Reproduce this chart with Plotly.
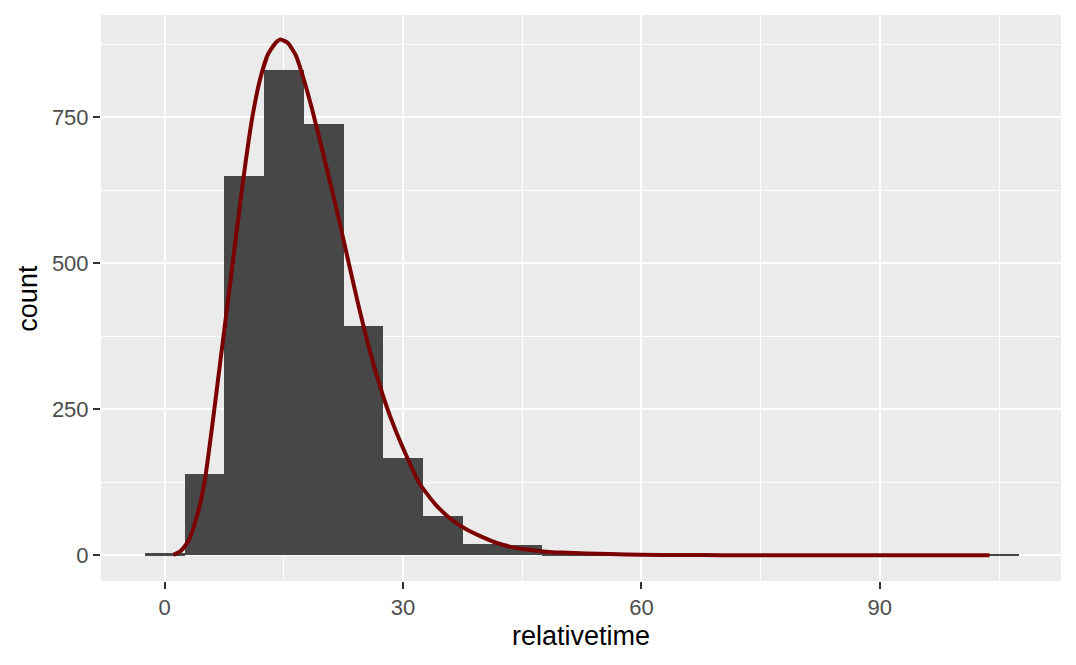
import plotly.graph_objects as go

# Histogram bins (width 5, centred on multiples of 5)
bin_centers = [0, 5, 10, 15, 20, 25, 30, 35, 40, 45, 50, 55, 60, 65, 70, 75, 80, 85, 90, 95, 100, 105]
bin_counts = [3, 139, 650, 831, 738, 393, 167, 67, 20, 17, 3, 2, 1, 1, 1, 0, 1, 0, 0, 0, 1, 1]
bin_width = 5

# Fitted density curve (scaled to counts)
curve_x = [1.1, 2.0, 3.0, 4.0, 5.0, 6.0, 7.0, 8.0, 9.0, 10.0, 11.0, 12.0, 13.0, 14.0, 14.6,
           15.5, 16.5, 17.5, 18.5, 19.5, 20.5, 21.5, 22.5, 23.5, 24.5, 25.5, 26.5, 27.5, 28.5,
           30, 32, 34, 36, 38, 40, 42, 44, 46, 48, 50, 53, 56, 60, 65, 70, 80, 90, 103.8]
curve_y = [0.5, 7, 25, 64, 124, 224, 332, 440, 549, 655, 748, 815, 858, 878, 883,
           877, 856, 815, 766, 712, 656, 600, 540, 480, 421, 366, 316, 272, 233,
           183, 124, 88, 62, 44, 31, 20, 13, 9, 6, 4.5, 3, 2, 0.8, 0.3, 0.1, 0, 0, 0]

x_ticks = [0, 30, 60, 90]
y_ticks = [0, 250, 500, 750]

font_family = "Liberation Sans, Arial, Helvetica, sans-serif"

fig = go.Figure()
fig.add_trace(go.Bar(
    x=bin_centers, y=bin_counts, width=bin_width,
    marker=dict(color="#474747", line=dict(width=0)),
    hoverinfo="x+y", showlegend=False,
))
fig.add_trace(go.Scatter(
    x=curve_x, y=curve_y, mode="lines",
    line=dict(color="#7B0000", width=4, shape="spline", smoothing=0.5),
    showlegend=False,
))

axis_common = dict(
    showline=False, zeroline=False,
    gridcolor="#FFFFFF", gridwidth=2.4,
    ticks="outside", ticklen=7, tickwidth=2.2, tickcolor="#333333",
    tickfont=dict(family=font_family, size=22, color="#4D4D4D"),
)

fig.update_xaxes(
    range=[-8.02, 112.8], tickmode="array", tickvals=x_ticks,
    ticktext=[str(v) for v in x_ticks],
    minor=dict(tickmode="array", tickvals=[15, 45, 75, 105], showgrid=True,
               gridcolor="#FFFFFF", gridwidth=1.3, ticks=""),
    **axis_common,
)
fig.update_yaxes(
    range=[-44.2, 925], tickmode="array", tickvals=y_ticks,
    ticktext=[str(v) for v in y_ticks],
    minor=dict(tickmode="array", tickvals=[125, 375, 625, 875], showgrid=True,
               gridcolor="#FFFFFF", gridwidth=1.3, ticks=""),
    **axis_common,
)

# page body adds an 8px offset; size the figure to fill the rest of the window
fig.update_layout(
    width=1068, height=657,
    margin=dict(l=93.3, r=15, t=7, b=84),
    paper_bgcolor="#FFFFFF", plot_bgcolor="#EBEBEB",
    bargap=0,
    font=dict(family=font_family),
    annotations=[
        dict(text="relativetime", xref="paper", yref="paper", x=0.5, y=-0.0972,
             xanchor="center", yanchor="middle", showarrow=False,
             font=dict(family=font_family, size=27, color="#000000")),
        dict(text="count", xref="paper", yref="paper", x=-0.0764, y=0.5,
             xanchor="center", yanchor="middle", textangle=-90, showarrow=False,
             font=dict(family=font_family, size=27, color="#000000")),
    ],
)

fig.write_html("out.html")
